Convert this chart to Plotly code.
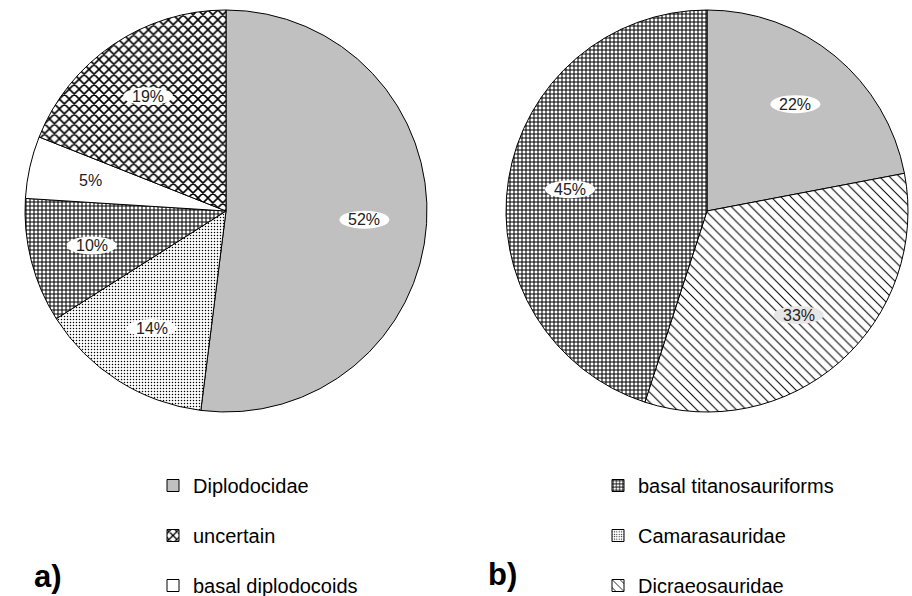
import math
import plotly.graph_objects as go

# ---- data ----
labels_a = ["Diplodocidae", "Camarasauridae", "basal titanosauriforms", "basal diplodocoids", "uncertain"]
values_a = [52, 14, 10, 5, 19]
labels_b = ["Diplodocidae", "Dicraeosauridae", "basal titanosauriforms"]
values_b = [22, 33, 45]
legend_left = ["Diplodocidae", "uncertain", "basal diplodocoids"]
legend_right = ["basal titanosauriforms", "Camarasauridae", "Dicraeosauridae"]
panel_tags = ["a)", "b)"]

# ---- styles ----
W, H = 912, 596
FONT = "Liberation Sans, Arial, sans-serif"
style = {
    "Diplodocidae": dict(color="#c0c0c0", shape="", size=6, sol=0.3),
    "Camarasauridae": dict(color="white", shape=".", size=3, sol=0.2),
    "basal titanosauriforms": dict(color="white", shape="+", size=4, sol=0.45),
    "basal diplodocoids": dict(color="white", shape="", size=6, sol=0.3),
    "uncertain": dict(color="white", shape="x", size=7, sol=0.4),
    "Dicraeosauridae": dict(color="white", shape="\\", size=7, sol=0.15),
}
label_bg = {"Dicraeosauridae": "#e6e6e6", "basal diplodocoids": None}


def domain(cx, cy, r):
    return dict(x=[(cx - r) / W, (cx + r) / W], y=[1 - (cy + r) / H, 1 - (cy - r) / H])


dom_a = domain(226, 211, 201)
dom_b = domain(707, 211, 201)

fig = go.Figure()


def add_pie(labels, values, dom):
    fig.add_trace(go.Pie(
        labels=labels, values=values, sort=False, direction="clockwise", rotation=0,
        domain=dom, textinfo="none", hoverinfo="label+percent", showlegend=False,
        marker=dict(
            colors=[style[l]["color"] for l in labels],
            line=dict(color="black", width=1),
            pattern=dict(
                shape=[style[l]["shape"] for l in labels],
                size=[style[l]["size"] for l in labels],
                solidity=[style[l]["sol"] for l in labels],
                fgcolor="black", bgcolor="white", fillmode="replace",
            ),
        ),
    ))


add_pie(labels_a, values_a, dom_a)
add_pie(labels_b, values_b, dom_b)

shapes = []
annotations = []


def add_labels(labels, values, dom):
    total = sum(values)
    cx = (dom["x"][0] + dom["x"][1]) / 2 * W
    cy = (1 - (dom["y"][0] + dom["y"][1]) / 2) * H
    R = min((dom["x"][1] - dom["x"][0]) * W, (dom["y"][1] - dom["y"][0]) * H) / 2
    cum = 0
    for l, v in zip(labels, values):
        mid = (cum + v / 2) / total * 2 * math.pi
        cum += v
        r = 0.69 * R
        px = cx + r * math.sin(mid)
        py = cy - r * math.cos(mid)
        txt = f"{round(v / total * 100)}%"
        hw = 25 if len(txt) > 2 else 20
        hh = 9
        bg = label_bg.get(l, "white")
        if bg:
            shapes.append(dict(type="circle", xref="paper", yref="paper",
                               x0=(px - hw) / W, x1=(px + hw) / W,
                               y0=1 - (py + hh) / H, y1=1 - (py - hh) / H,
                               fillcolor=bg, line=dict(width=0), layer="above"))
        annotations.append(dict(x=px / W, y=1 - py / H, xref="paper", yref="paper",
                                xanchor="center", yanchor="middle",
                                text=txt, showarrow=False,
                                font=dict(family=FONT, size=16, color="#222")))


add_labels(labels_a, values_a, dom_a)
add_labels(labels_b, values_b, dom_b)

# legend via dummy bar traces
for names, lg in ((legend_left, "legend"), (legend_right, "legend2")):
    for n in names:
        s = style[n]
        fig.add_trace(go.Bar(
            x=[None], y=[None], name=n, legend=lg, legendgroup=n, showlegend=True,
            marker=dict(color=s["color"], line=dict(color="black", width=1),
                        pattern=dict(shape=s["shape"], size=s["size"], solidity=s["sol"],
                                     fgcolor="black", bgcolor="white", fillmode="replace")),
        ))

for tag, x, y in zip(panel_tags, (48, 502), (576, 574)):
    annotations.append(dict(x=x / W, y=1 - y / H, xref="paper", yref="paper", text=f"<b>{tag}</b>",
                            xanchor="center", yanchor="middle",
                            showarrow=False, font=dict(family=FONT, size=31, color="black")))

leg_common = dict(font=dict(family=FONT, size=20, color="black"), tracegroupgap=21,
                  bgcolor="rgba(0,0,0,0)", yanchor="top", xanchor="left", itemwidth=30)
fig.update_layout(
    width=W, height=H, margin=dict(l=0, r=0, t=0, b=0, autoexpand=False),
    paper_bgcolor="white", plot_bgcolor="white",
    xaxis=dict(visible=False, domain=[0, 0.01]), yaxis=dict(visible=False, domain=[0, 0.01]),
    shapes=shapes, annotations=annotations,
    legend=dict(x=153 / W, y=1 - 466 / H, **leg_common),
    legend2=dict(x=598 / W, y=1 - 466 / H, **leg_common),
)

fig.write_html("out.html", config={"displayModeBar": False},
               post_script="document.body.style.margin='0';document.body.style.overflow='hidden';")
